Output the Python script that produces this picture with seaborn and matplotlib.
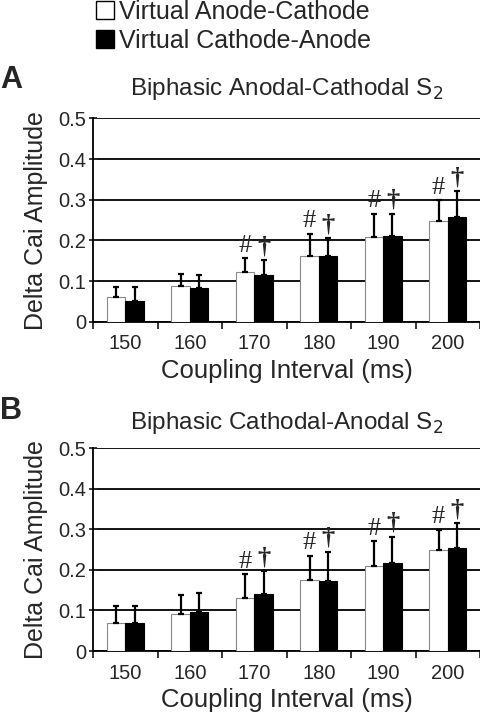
import numpy as np
import pandas as pd
import seaborn as sns
import matplotlib.pyplot as plt
from matplotlib.patches import Patch

sns.set_style("white")
plt.rcParams['font.family'] = ['Liberation Sans', 'DejaVu Sans']

intervals = ["150", "160", "170", "180", "190", "200"]
groups = ["Virtual Anode-Cathode", "Virtual Cathode-Anode"]

# panel A: biphasic anodal-cathodal S2
a_ac_mean = [0.060, 0.089, 0.123, 0.161, 0.208, 0.247]
a_ac_err = [0.026, 0.028, 0.033, 0.056, 0.058, 0.052]
a_ca_mean = [0.052, 0.084, 0.115, 0.161, 0.212, 0.257]
a_ca_err = [0.034, 0.032, 0.037, 0.044, 0.054, 0.065]

# panel B: biphasic cathodal-anodal S2
b_ac_mean = [0.069, 0.092, 0.130, 0.176, 0.210, 0.250]
b_ac_err = [0.042, 0.045, 0.059, 0.059, 0.060, 0.049]
b_ca_mean = [0.069, 0.095, 0.141, 0.173, 0.216, 0.254]
b_ca_err = [0.043, 0.049, 0.057, 0.072, 0.066, 0.061]

# significance marks (# = anode-cathode, dagger = cathode-anode)
sig_ac = [False, False, True, True, True, True]
sig_ca = [False, False, True, True, True, True]


def draw_panel(ax, ac_mean, ac_err, ca_mean, ca_err, title, tpad):
    df = pd.DataFrame({
        "interval": intervals * 2,
        "group": [groups[0]] * 6 + [groups[1]] * 6,
        "amp": ac_mean + ca_mean,
    })
    sns.barplot(data=df, x="interval", y="amp", hue="group", order=intervals,
                hue_order=groups, palette=["white", "black"], width=0.57,
                errorbar=None, legend=False, ax=ax, zorder=3)
    bars = ax.patches[:12]
    for i, b in enumerate(bars):
        b.set_edgecolor("#888888" if i < 6 else "black")
        b.set_linewidth(0.8)
    errs = ac_err + ca_err
    means = ac_mean + ca_mean
    xs = [b.get_x() + b.get_width() / 2 for b in bars]
    ax.errorbar(xs, means, yerr=[np.zeros(12), errs], fmt="none",
                ecolor="black", elinewidth=1.6, capsize=2.5, capthick=1.6, zorder=4)
    for i in range(6):
        if sig_ac[i]:
            ax.text(xs[i], means[i] + errs[i] + 0.004, "#", ha="center", va="bottom",
                    fontsize=19, family="Liberation Serif")
        if sig_ca[i]:
            ax.text(xs[i + 6], means[i + 6] + errs[i + 6] + 0.004, "\u2020", ha="center",
                    va="bottom", fontsize=19, family="Liberation Serif", fontweight="bold")
    ax.set_ylim(0, 0.5)
    ax.set_xlim(-0.5, 5.5)
    ax.set_yticks([0, 0.1, 0.2, 0.3, 0.4, 0.5])
    ax.set_yticklabels(["0", "0.1", "0.2", "0.3", "0.4", "0.5"])
    ax.yaxis.grid(True, color="black", linewidth=1.3, zorder=0)
    ax.set_axisbelow(True)
    ax.set_xticks(np.arange(-0.5, 6.0, 1.0), minor=True)
    ax.tick_params(axis="x", which="major", length=0, labelsize=14.5, pad=9)
    ax.tick_params(axis="x", which="minor", length=5, width=1.3, direction="out", bottom=True)
    ax.tick_params(axis="y", length=6, width=1.3, direction="inout", labelsize=14.5,
                   left=True, pad=2)
    for s in ["top", "right"]:
        ax.spines[s].set_visible(False)
    for s in ["left", "bottom"]:
        ax.spines[s].set_color("black")
        ax.spines[s].set_linewidth(1.3)
    ax.set_xlabel("Coupling Interval (ms)", fontsize=18.5, labelpad=4)
    ax.set_ylabel("Delta Cai Amplitude", fontsize=18, labelpad=7)
    ax.set_title(title, fontsize=17.5, pad=tpad)


fig = plt.figure(figsize=(4.8, 7.17), dpi=100)
ax_a = fig.add_axes([0.194, 0.551, 0.806, 0.284])
ax_b = fig.add_axes([0.194, 0.092, 0.806, 0.283])

draw_panel(ax_a, a_ac_mean, a_ac_err, a_ca_mean, a_ca_err, "Biphasic Anodal-Cathodal S$_2$", 17)
draw_panel(ax_b, b_ac_mean, b_ac_err, b_ca_mean, b_ca_err, "Biphasic Cathodal-Anodal S$_2$", 14)

fig.text(0.0, 0.889, "A", fontsize=22, fontweight="bold", va="center")
fig.text(0.0, 0.427, "B", fontsize=22, fontweight="bold", va="center")

handles = [Patch(facecolor="white", edgecolor="black", linewidth=1.0),
           Patch(facecolor="black", edgecolor="black")]
fig.legend(handles, groups, loc="upper left", bbox_to_anchor=(0.2, 1.0),
           frameon=False, fontsize=18, handlelength=0.72, handleheight=0.72,
           handletextpad=0.2, labelspacing=0.2, borderaxespad=0, borderpad=0)

fig.savefig("out.png", dpi=100)
